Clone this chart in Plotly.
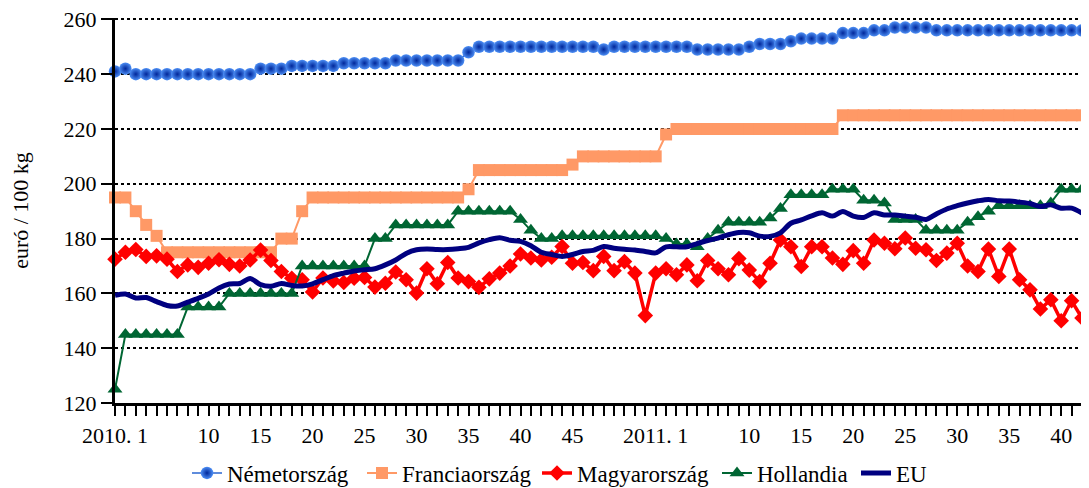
import plotly.graph_objects as go

# ---- categories (weeks) ----
weeks_2010 = list(range(1, 53))
weeks_2011 = list(range(1, 43))
labelled_2010 = [1, 10, 15, 20, 25, 30, 35, 40, 45]
labelled_2011 = [1, 10, 15, 20, 25, 30, 35, 40]

# ---- series (euró/100 kg) ----
nemetorszag = [241, 242, 240, 240, 240, 240, 240, 240, 240, 240,
               240, 240, 240, 240, 242, 242, 242, 243, 243, 243,
               243, 243, 244, 244, 244, 244, 244, 245, 245, 245,
               245, 245, 245, 245, 248, 250, 250, 250, 250, 250,
               250, 250, 250, 250, 250, 250, 250, 249, 250, 250,
               250, 250, 250, 250, 250, 250, 249, 249, 249, 249,
               249, 250, 251, 251, 251, 252, 253, 253, 253, 253,
               255, 255, 255, 256, 256, 257, 257, 257, 257, 256,
               256, 256, 256, 256, 256, 256, 256, 256, 256, 256,
               256, 256, 256, 256]

franciaorszag = [195, 195, 190, 185, 181, 175, 175, 175, 175, 175,
                 175, 175, 175, 175, 175, 175, 180, 180, 190, 195,
                 195, 195, 195, 195, 195, 195, 195, 195, 195, 195,
                 195, 195, 195, 195, 198, 205, 205, 205, 205, 205,
                 205, 205, 205, 205, 207, 210, 210, 210, 210, 210,
                 210, 210, 210, 218, 220, 220, 220, 220, 220, 220,
                 220, 220, 220, 220, 220, 220, 220, 220, 220, 220,
                 225, 225, 225, 225, 225, 225, 225, 225, 225, 225,
                 225, 225, 225, 225, 225, 225, 225, 225, 225, 225,
                 225, 225, 225, 225]

magyarorszag = [172.5, 175, 176, 173.5, 173.7, 172.5, 168, 170.4, 169.5, 171,
                172.3, 170.6, 170, 172.2, 175.8, 172, 168, 165.5, 165, 160.5,
                165.6, 164.5, 164, 165.5, 165.8, 162.3, 163.7, 167.8, 165, 160.1,
                169, 163.5, 171.3, 165.6, 164.3, 162.2, 165.3, 167.4, 170, 174.4,
                172.9, 172.2, 173.2, 177.1, 171, 171.3, 168.3, 173.5, 168.3, 171.6,
                167.4, 151.9, 167.4, 169, 166.8, 170.4, 164.6, 172, 169, 166.8,
                172.7, 168.5, 164.3, 171, 179.5, 177, 169.8, 177, 177, 172.9,
                170.6, 175.6, 171, 179.5, 178.3, 176.3, 180.2, 176.5, 175.9, 172,
                174.7, 178.3, 170, 168, 176.2, 166.2, 176.2, 165, 161.3, 154.3,
                157.7, 150, 157.3, 151]

hollandia = [125, 145, 145, 145, 145, 145, 145, 155, 155, 155,
             155, 160, 160, 160, 160, 160, 160, 160, 170, 170,
             170, 170, 170, 170, 170, 180, 180, 185, 185, 185,
             185, 185, 185, 190, 190, 190, 190, 190, 190, 187,
             183, 180, 180, 181, 181, 181, 181, 181, 181, 181,
             181, 181, 181, 180, 178, 178, 177, 180, 183, 186,
             186, 186, 186, 187.5, 191, 196, 196, 196, 196, 198,
             198, 198, 194, 194, 193, 187, 187, 187, 183, 183,
             183, 183, 186, 188, 190, 192, 192, 192, 192, 192,
             193, 198, 198, 198]

eu = [159.3, 159.8, 158.3, 158.5, 157, 155.6, 155.4, 156.8, 158.2, 159.8,
      162, 163.4, 163.6, 165.4, 163.2, 162.6, 163.6, 162.9, 162.7, 163.5,
      165, 166.5, 167.4, 168.2, 168.6, 169, 170.4, 172.2, 174.6, 175.9,
      176.2, 176, 176, 176.3, 176.8, 178.4, 179.6, 180.3, 179.4, 179,
      177.4, 175, 174.2, 173.5, 174.2, 175.3, 175.7, 177.1, 176.5, 176.1,
      175.8, 175.3, 174.8, 177, 177, 177, 178.2, 179.3, 180.2, 181.4,
      182.2, 182.1, 180.9, 180.8, 182.1, 185.6, 186.8, 188.3, 189.4, 188.2,
      189.9, 188.2, 187.7, 189.4, 188.6, 188.6, 188.2, 187.8, 187, 189,
      190.8, 192, 193, 193.8, 194.3, 193.8, 193.7, 193.3, 192.8, 191.7,
      192.3, 191.1, 191.1, 189.3]

# ---- build axis categories ----
week_keys = [(2010, w) for w in weeks_2010] + [(2011, w) for w in weeks_2011]
x = list(range(len(week_keys)))
ticktext = []
for (yr, w) in week_keys:
    lab = labelled_2010 if yr == 2010 else labelled_2011
    if w in lab:
        ticktext.append(f"{yr}. 1" if w == 1 else str(w))
    else:
        ticktext.append("")

FONT = "Liberation Serif, Times New Roman, serif"
W, H = 1081, 480   # page adds 8px body margin

fig = go.Figure()

fig.add_trace(go.Scatter(
    x=x, y=nemetorszag, name="Németország", mode="lines+markers",
    line=dict(color="#2a66d0", width=1.5),
    marker=dict(symbol="circle", size=12.5, color="#4d8ff5",
                gradient=dict(type="radial", color="#00279a"),
                line=dict(width=0)),
    cliponaxis=False, legend="legend"))

fig.add_trace(go.Scatter(
    x=x, y=franciaorszag, name="Franciaország", mode="lines+markers",
    line=dict(color="#ff9966", width=2),
    marker=dict(symbol="square", size=12, color="#ff9966", line=dict(width=0)),
    cliponaxis=False, legend="legend2"))

fig.add_trace(go.Scatter(
    x=x, y=magyarorszag, name="Magyarország", mode="lines+markers",
    line=dict(color="#ff0000", width=3.5),
    marker=dict(symbol="diamond", size=12, color="#ff0000", line=dict(width=0)),
    cliponaxis=False, legend="legend3"))

fig.add_trace(go.Scatter(
    x=x, y=hollandia, name="Hollandia", mode="lines+markers",
    line=dict(color="#006633", width=2),
    marker=dict(symbol="triangle-up", size=13, color="#006633", line=dict(width=0)),
    cliponaxis=False, legend="legend4"))

fig.add_trace(go.Scatter(
    x=x, y=eu, name="EU", mode="lines",
    line=dict(color="#000080", width=5, shape="spline", smoothing=0.8),
    cliponaxis=False, legend="legend5"))

def leg(xpx):
    return dict(orientation="h", xref="container", yref="container",
                x=xpx / W, y=(H - 465) / H, xanchor="left", yanchor="middle",
                font=dict(family=FONT, size=23, color="#000000"),
                bgcolor="rgba(0,0,0,0)", borderwidth=0, itemwidth=30)

fig.update_layout(
    width=W, height=H,
    margin=dict(l=107, r=7, t=10, b=85, autoexpand=False),
    paper_bgcolor="white", plot_bgcolor="white",
    font=dict(family=FONT, size=22, color="#000000"),
    showlegend=True,
    legend=leg(179), legend2=leg(354), legend3=leg(529), legend4=leg(709), legend5=leg(848),
)

fig.update_xaxes(
    range=[0, len(x) - 1], tickmode="array", tickvals=x, ticktext=ticktext,
    ticks="outside", ticklen=10, tickwidth=2, tickcolor="black",
    showline=True, linecolor="black", linewidth=3,
    showgrid=False, zeroline=False,
    tickfont=dict(family=FONT, size=22, color="#000000"),
    ticklabelstandoff=1, ticklabeloverflow="allow",
)
fig.update_yaxes(
    range=[120, 260.5], dtick=20, tick0=120,
    ticks="outside", ticklen=11, tickwidth=2, tickcolor="black",
    showline=True, linecolor="black", linewidth=3,
    showgrid=True, gridcolor="black", gridwidth=2, griddash="3px,3px",
    zeroline=False, ticklabeloverflow="allow",
    tickfont=dict(family=FONT, size=22, color="#000000"),
    title=dict(text="euró / 100 kg", font=dict(family=FONT, size=22, color="#000000"), standoff=30),
)

fig.write_html("out.html")
